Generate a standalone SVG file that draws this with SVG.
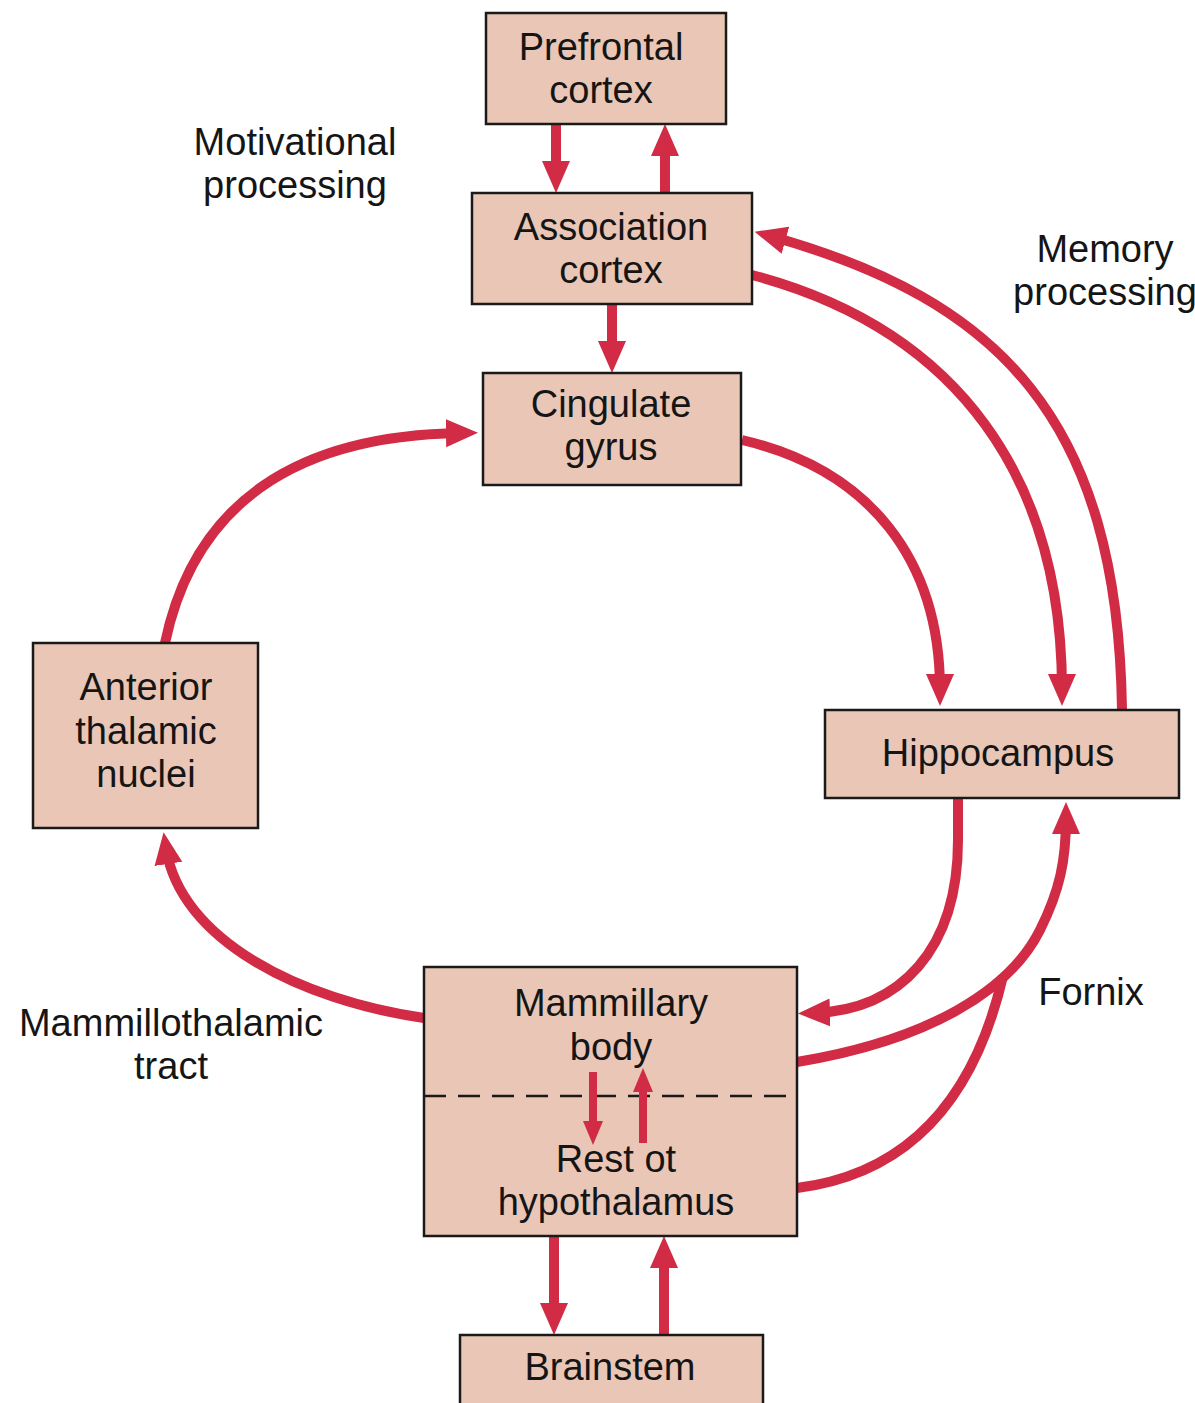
<svg xmlns="http://www.w3.org/2000/svg" width="1195" height="1403" viewBox="0 0 1195 1403">
<style>
.box{fill:#eac6b6;stroke:#1a1a1a;stroke-width:2.5}
.t{font-family:"Liberation Sans",Arial,sans-serif;font-size:38px;fill:#151515;text-anchor:middle}
.c{fill:none;stroke:#d12b45;stroke-width:10}
.cs{fill:none;stroke:#d12b45;stroke-width:8}
</style>
<defs>
<marker id="ah" markerUnits="userSpaceOnUse" markerWidth="32" markerHeight="30" viewBox="0 0 32 30" refX="16" refY="15" orient="auto">
<path d="M0,1 L32,15 L0,29 Z" fill="#d12b45"/>
</marker>
<marker id="ahs" markerUnits="userSpaceOnUse" markerWidth="24" markerHeight="22" viewBox="0 0 24 22" refX="12" refY="11" orient="auto">
<path d="M0,1 L24,11 L0,21 Z" fill="#d12b45"/>
</marker>
</defs>
<rect width="1195" height="1403" fill="#ffffff"/>

<g id="connectors">
<path class="c" d="M556,124 L556,177" marker-end="url(#ah)"/>
<path class="c" d="M665,193 L665,140" marker-end="url(#ah)"/>
<path class="c" d="M612,304 L612,357" marker-end="url(#ah)"/>
<path class="c" d="M742,440 C870,470 940,560 940,690" marker-end="url(#ah)"/>
<path class="c" d="M752,275 C960,330 1062,480 1062,690" marker-end="url(#ah)"/>
<path class="c" d="M1122,710 C1118,420 1000,300 770,236" marker-end="url(#ah)"/>
<path class="c" d="M958,798 L958,840 C958,950 900,1010 814,1013" marker-end="url(#ah)"/>
<path class="c" d="M797,1062 C930,1040 1010,990 1040,930 C1060,890 1066,860 1066,818" marker-end="url(#ah)"/>
<path class="c" d="M797,1188 C900,1175 972,1110 1003,976"/>
<path class="c" d="M424,1018 C300,1000 180,940 166,848" marker-end="url(#ah)"/>
<path class="c" d="M165,643 C195,500 300,435 462,433" marker-end="url(#ah)"/>
<path class="c" d="M554,1236 L554,1319" marker-end="url(#ah)"/>
<path class="c" d="M664,1335 L664,1252" marker-end="url(#ah)"/>
</g>

<g id="prefrontal">
<rect class="box" x="486" y="13" width="240" height="111"/>
<text class="t" x="601" y="60">Prefrontal</text>
<text class="t" x="601" y="103">cortex</text>
</g>

<g id="association">
<rect class="box" x="472" y="193" width="280" height="111"/>
<text class="t" x="611" y="240">Association</text>
<text class="t" x="611" y="283">cortex</text>
</g>

<g id="cingulate">
<rect class="box" x="483" y="373" width="258" height="112"/>
<text class="t" x="611" y="417">Cingulate</text>
<text class="t" x="611" y="460">gyrus</text>
</g>

<g id="anterior">
<rect class="box" x="33" y="643" width="225" height="185"/>
<text class="t" x="146" y="700">Anterior</text>
<text class="t" x="146" y="744">thalamic</text>
<text class="t" x="146" y="787">nuclei</text>
</g>

<g id="hippocampus">
<rect class="box" x="825" y="710" width="354" height="88"/>
<text class="t" x="998" y="766">Hippocampus</text>
</g>

<g id="hypothalamus">
<rect class="box" x="424" y="967" width="373" height="269"/>
<line x1="424" y1="1096" x2="797" y2="1096" stroke="#1a1a1a" stroke-width="2.5" stroke-dasharray="22,12"/>
<text class="t" x="611" y="1016">Mammillary</text>
<text class="t" x="611" y="1060">body</text>
<text class="t" x="616" y="1172">Rest ot</text>
<text class="t" x="616" y="1215">hypothalamus</text>
<path class="cs" d="M593,1072 L593,1133" marker-end="url(#ahs)"/>
<path class="cs" d="M643,1143 L643,1080" marker-end="url(#ahs)"/>
</g>

<g id="brainstem">
<rect class="box" x="460" y="1335" width="303" height="90"/>
<text class="t" x="610" y="1380">Brainstem</text>
</g>

<g id="labels">
<text class="t" x="295" y="155">Motivational</text>
<text class="t" x="295" y="198">processing</text>
<text class="t" x="1105" y="262">Memory</text>
<text class="t" x="1105" y="305">processing</text>
<text class="t" x="1091" y="1005">Fornix</text>
<text class="t" x="171" y="1036">Mammillothalamic</text>
<text class="t" x="171" y="1079">tract</text>
</g>
</svg>
